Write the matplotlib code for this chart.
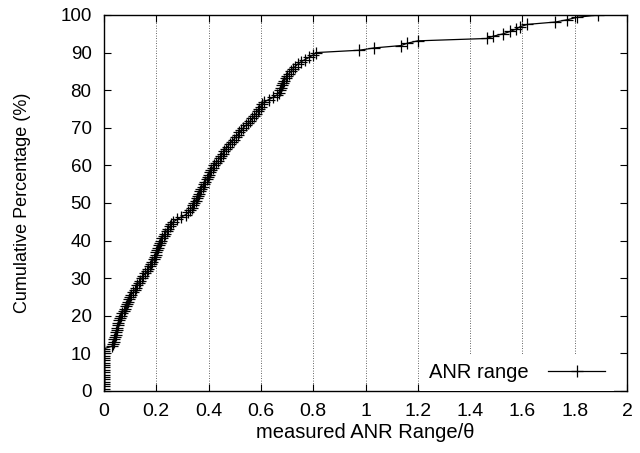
import numpy as np
import matplotlib
matplotlib.use("Agg")
import matplotlib.pyplot as plt

# --------------------------------------------------
# Data: measured ANR range / theta, sorted (160 samples)
# --------------------------------------------------

anr_zero = [0.0] * 18

anr_low = [
    0.030, 0.035, 0.038, 0.040, 0.042, 0.044, 0.046, 0.048,
    0.050, 0.053, 0.055, 0.058, 0.062, 0.065, 0.070, 0.075,
    0.080, 0.085, 0.088, 0.093, 0.097, 0.100, 0.105, 0.112,
    0.118, 0.122, 0.128, 0.133, 0.138, 0.145, 0.150, 0.158,
    0.165, 0.170, 0.176, 0.180, 0.185, 0.190, 0.194, 0.197,
    0.200, 0.204, 0.208, 0.211, 0.214, 0.218, 0.222, 0.228,
    0.234, 0.240, 0.246, 0.252, 0.258, 0.265, 0.280, 0.295,
]

anr_mid = [
    0.312, 0.322, 0.330, 0.336, 0.341, 0.346, 0.350, 0.354,
    0.358, 0.363, 0.367, 0.372, 0.377, 0.382, 0.387, 0.392,
    0.397, 0.402, 0.406, 0.411, 0.416, 0.422, 0.429, 0.436,
    0.442, 0.448, 0.454, 0.460, 0.466, 0.473, 0.480, 0.488,
    0.496, 0.504, 0.511, 0.518, 0.525, 0.533, 0.542, 0.551,
    0.560, 0.567, 0.574, 0.581, 0.587, 0.593, 0.599, 0.605,
    0.612, 0.630, 0.648, 0.662, 0.668, 0.674, 0.678, 0.682,
    0.686, 0.690, 0.695, 0.700, 0.707, 0.715, 0.722, 0.730,
    0.740, 0.752, 0.768, 0.785, 0.800, 0.810,
]

anr_high = [
    0.976, 1.034, 1.136, 1.160, 1.200, 1.463, 1.489, 1.527,
    1.553, 1.576, 1.591, 1.619, 1.726, 1.772, 1.808, 1.890,
]

x_ticks = [0, 0.2, 0.4, 0.6, 0.8, 1, 1.2, 1.4, 1.6, 1.8, 2]
x_tick_labels = ["0", "0.2", "0.4", "0.6", "0.8", "1", "1.2", "1.4", "1.6", "1.8", "2"]
y_ticks = list(range(0, 101, 10))

# cumulative percentage of the sorted samples
anr = np.sort(np.array(anr_zero + anr_low + anr_mid + anr_high))
cum_pct = np.arange(1, len(anr) + 1) / len(anr) * 100

# --------------------------------------------------
# Plot
# --------------------------------------------------

plt.rcParams["font.family"] = ["Liberation Sans", "DejaVu Sans"]
plt.rcParams["font.size"] = 13.5

fig = plt.figure(figsize=(6.4, 4.53), dpi=100)
ax = fig.add_axes([0.1625, 0.1369, 0.8172, 0.830])

ax.plot(anr, cum_pct, color="black", linewidth=0.9, marker="+",
        markersize=8.5, markeredgewidth=0.9, label="ANR range")

ax.set_xlim(0, 2)
ax.set_ylim(0, 100)
ax.set_xticks(x_ticks)
ax.set_xticklabels(x_tick_labels, fontsize=14)
ax.set_yticks(y_ticks)

ax.grid(True, axis="x", linestyle=(0, (1, 2)), color="black", linewidth=0.6, alpha=0.8)
ax.tick_params(direction="in", top=True, right=True, length=5, width=0.8, pad=9)
for spine in ax.spines.values():
    spine.set_linewidth(1.0)

ax.set_xlabel("measured ANR Range/θ", fontsize=14.5, labelpad=2)
ax.set_ylabel("Cumulative Percentage (%)", fontsize=13, labelpad=21)

leg = ax.legend(loc="center right", bbox_to_anchor=(0.975, 0.05),
                frameon=True, fancybox=False, edgecolor="none",
                framealpha=1.0, markerfirst=False, handlelength=2.8,
                handletextpad=1.0, borderpad=0.45, borderaxespad=0.0,
                fontsize=14.5)
leg.get_frame().set_facecolor("white")

fig.savefig("out.png", dpi=100)
